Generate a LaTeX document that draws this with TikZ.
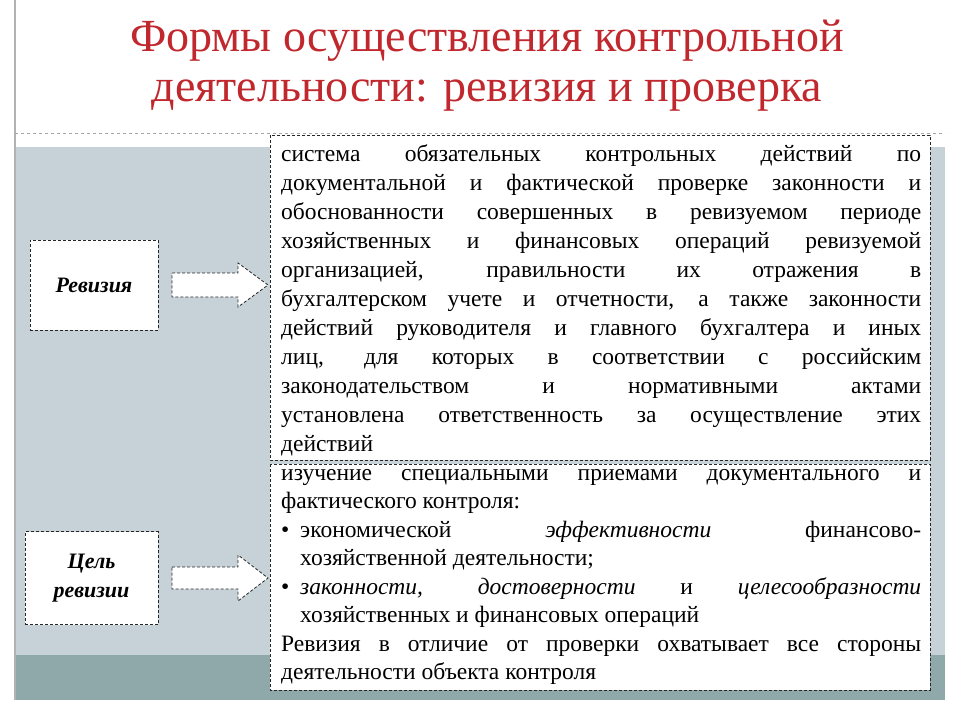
\documentclass[tikz,border=0pt]{standalone}
\usepackage{fontspec}
\setmainfont{Liberation Serif}
\definecolor{panel}{HTML}{C6D2D8}
\definecolor{band}{HTML}{8FA9AA}
\definecolor{titlered}{HTML}{C0282E}
\tikzset{
  dbox/.style={draw=black!85, densely dashed, fill=white, line width=0.8pt},
  txt/.style={font=\fontsize{23.5}{29}\selectfont, align=justify, anchor=north west, inner sep=0pt}
}
\begin{document}
\begin{tikzpicture}[x=1pt,y=-1pt]
\useasboundingbox (0,0) rectangle (960,720);
\fill[white] (0,0) rectangle (960,720);
\draw[gray!60, line width=1.5pt] (15,0) -- (15,700);
\fill[panel] (16,147) rectangle (945,655);
\fill[band] (16,655) rectangle (945,700);
\draw[gray!70, dashed] (15,133) -- (945,133);
\node[text=titlered, font=\fontsize{46}{50}\selectfont, align=center] (title) at (487,66) {Формы осуществления контрольной\\деятельности: ревизия и проверка};
% boxes
\draw[dbox] (270,135) rectangle (930,460);
\node[txt, text width=640pt] (t1) at (281,144) {система обязательных контрольных действий по\linebreak документальной и фактической проверке законности и\linebreak обоснованности совершенных в ревизуемом периоде\linebreak хозяйственных и финансовых операций ревизуемой\linebreak организацией, правильности их отражения в\linebreak бухгалтерском учете и отчетности, а также законности\linebreak действий руководителя и главного бухгалтера и иных\linebreak лиц, для которых в соответствии с российским\linebreak законодательством и нормативными актами\linebreak установлена ответственность за осуществление этих\linebreak действий};
\draw[dbox] (270,464) rectangle (930,690);
\node[txt, text width=640pt, font=\fontsize{23.5}{28.5}\selectfont] (t2) at (281,469) {изучение специальными приемами документального и\linebreak фактического контроля:\par
\hangindent=19pt\hangafter=1\makebox[19pt][l]{\textbullet}экономической \textit{эффективности} финансово-\linebreak хозяйственной деятельности;\par
\hangindent=19pt\hangafter=1\makebox[19pt][l]{\textbullet}\textit{законности, достоверности} и \textit{целесообразности}\linebreak хозяйственных и финансовых операций\par
Ревизия в отличие от проверки охватывает все стороны\linebreak деятельности объекта контроля};
% left boxes
\node[dbox, minimum width=128pt, minimum height=90pt, font=\fontsize{22}{24}\selectfont\bfseries\itshape] (rev) at (94,285) {Ревизия};
\node[dbox, minimum width=133pt, minimum height=93pt, align=center, font=\fontsize{22}{29}\selectfont\bfseries\itshape] (goal) at (91.5,578) {Цель\\ревизии};
% arrows
\draw[dbox] (172,273) -- (238,273) -- (238,263) -- (268,285) -- (238,307) -- (238,297) -- (172,297) -- cycle;
\draw[dbox] (172,567) -- (238,567) -- (238,555) -- (268,578) -- (238,601) -- (238,589) -- (172,589) -- cycle;
\end{tikzpicture}
\end{document}
